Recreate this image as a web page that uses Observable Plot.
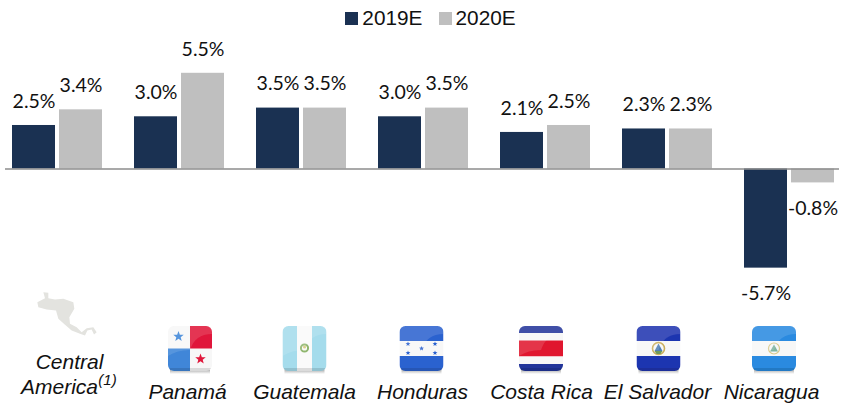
<!DOCTYPE html>
<html>
<head>
<meta charset="utf-8">
<script src="https://cdn.jsdelivr.net/npm/d3@7"></script>
<script src="https://cdn.jsdelivr.net/npm/@observablehq/plot@0.6"></script>
<style>
html,body{margin:0;padding:0;background:#fff;width:846px;height:411px;overflow:hidden}
figure{margin:0 !important}
.lg-swatches-wrap{display:flex !important;justify-content:center;align-items:center;height:36px;min-height:36px !important;margin:0 !important;padding-left:15px;box-sizing:border-box;flex-wrap:nowrap}
.lg-swatches{font-family:"Liberation Sans",Arial,sans-serif !important;font-size:20.8px !important;color:#111}
.lg-swatch{margin-right:16px !important;margin-left:0}
.lg-swatch:last-child{margin-right:0 !important}
.lg-swatch svg{margin-right:4px !important}
</style>
</head>
<body>
<div id="chart"></div>
<script>
const categories = ["Central America", "Panamá", "Guatemala", "Honduras", "Costa Rica", "El Salvador", "Nicaragua"];
const series = ["2019E", "2020E"];
const values2019 = [2.5, 3.0, 3.5, 3.0, 2.1, 2.3, -5.7];
const values2020 = [3.4, 5.5, 3.5, 3.5, 2.5, 2.3, -0.8];
const colors = ["#1a3152", "#bfbfbf"];

const table = categories.flatMap((c, i) => [
  {country: c, series: series[0], value: values2019[i]},
  {country: c, series: series[1], value: values2020[i]}
]);

// Decorative flag artwork (glossy rounded icons) and the region silhouette
function flagIcon(body) {
  const svg = `<svg xmlns="http://www.w3.org/2000/svg" width="50" height="52" viewBox="0 0 50 52">
  <defs><clipPath id="c"><rect x="3" y="2" width="44" height="45" rx="6"/></clipPath>
  <linearGradient id="s" x1="0" y1="0" x2="0" y2="1"><stop offset="0" stop-color="#000" stop-opacity=".3"/><stop offset="1" stop-color="#000" stop-opacity="0"/></linearGradient>
  <filter id="b" x="-5%" y="-5%" width="110%" height="110%"><feGaussianBlur stdDeviation=".5"/></filter></defs>
  <rect x="5" y="46" width="40" height="4" fill="url(#s)"/>
  <g filter="url(#b)"><g clip-path="url(#c)">${body}
  <path d="M3 2H47V10Q30 10 25 26Q12 26 3 32Z" fill="#fff" opacity=".13"/>
  <rect x="3" y="44" width="44" height="3" fill="#000" opacity=".12"/>
  </g></g></svg>`;
  return "data:image/svg+xml;charset=utf-8," + encodeURIComponent(svg);
}
const band = (y, h, fill) => `<rect x="3" y="${y}" width="44" height="${h}" fill="${fill}"/>`;
const star = (x, y, r, fill) => {
  const p = d3.range(10).map(i => {
    const a = -Math.PI / 2 + i * Math.PI / 5, q = i % 2 ? r * 0.42 : r;
    return `${(x + q * Math.cos(a)).toFixed(2)},${(y + q * Math.sin(a)).toFixed(2)}`;
  }).join(" ");
  return `<polygon points="${p}" fill="${fill}"/>`;
};
const flags = {
  "Panamá": flagIcon(`<rect x="3" y="2" width="44" height="45" fill="#f7f7f7"/>
    <rect x="25" y="2" width="22" height="22.5" fill="#e0173a"/>
    <rect x="3" y="24.5" width="22" height="22.5" fill="#3f86d8"/>
    ${star(13.5, 12.5, 5.5, "#3f86d8")}${star(35.5, 35, 5.5, "#e0173a")}`),
  "Guatemala": flagIcon(`<rect x="3" y="2" width="44" height="45" fill="#a5dcec"/>
    <rect x="17.5" y="2" width="15" height="45" fill="#fafafa"/>
    <circle cx="25" cy="24" r="3.6" fill="none" stroke="#8fb66e" stroke-width="2"/>
    <circle cx="25" cy="23" r="1.5" fill="#d4c87c"/>`),
  "Honduras": flagIcon(`${band(2, 15, "#2c62cf")}${band(17, 15, "#f7f7f7")}${band(32, 15, "#2c62cf")}
    ${star(11.5, 20, 2.6, "#2c62cf")}${star(11.5, 29, 2.6, "#2c62cf")}${star(25, 24.5, 2.6, "#2c62cf")}${star(38.5, 20, 2.6, "#2c62cf")}${star(38.5, 29, 2.6, "#2c62cf")}`),
  "Costa Rica": flagIcon(`${band(2, 7, "#23359a")}${band(9, 7.5, "#f7f7f7")}${band(16.5, 16, "#e0172f")}${band(32.5, 7.5, "#f7f7f7")}${band(40, 7, "#23359a")}`),
  "El Salvador": flagIcon(`${band(2, 15, "#1f35b0")}${band(17, 15, "#f7f7f7")}${band(32, 15, "#1f35b0")}
    <circle cx="25" cy="24.5" r="6" fill="none" stroke="#c9ad5a" stroke-width="1.6"/>
    <path d="M25 19.5L29 27H21Z" fill="#4f7fb5"/><path d="M21 27H29L27 30H23Z" fill="#6f9a5a"/>`),
  "Nicaragua": flagIcon(`${band(2, 15, "#2a8ae0")}${band(17, 15, "#f7f7f7")}${band(32, 15, "#2a8ae0")}
    <circle cx="25" cy="24.5" r="5.5" fill="none" stroke="#d8c98a" stroke-width="1.2"/>
    <path d="M25 20.5L29 27.5H21Z" fill="#7fb5a0"/>`)
};
const regionMap = "data:image/svg+xml;charset=utf-8," + encodeURIComponent(
  `<svg xmlns="http://www.w3.org/2000/svg" width="75" height="55" viewBox="0 0 225 165"><path d="M40 20L55 22L55 38L75 42L100 40L130 50L133 70L118 95L120 115L140 125L155 140L170 128L190 125L200 140L192 147L185 132L172 135L165 150L150 145L125 135L105 118L85 100L78 75L50 72L25 65L22 50L45 38Z" fill="#e3e3df"/></svg>`);

// Horizontal nudges of the bottom strip relative to each country's group
const flagNudge = {"Panamá": 10.5, "Guatemala": 3, "Honduras": -2, "Costa Rica": -4.5, "El Salvador": -9, "Nicaragua": -15.5};
const labelNudge = {"Panamá": 8, "Guatemala": 3, "Honduras": -1, "Costa Rica": -4, "El Salvador": -10, "Nicaragua": -18};

const labelFont = {fontFamily: "Liberation Sans, Arial, sans-serif", fontStyle: "italic", fontSize: 21, fill: "#111"};
const valueFont = {fontFamily: "Lato, Carlito, sans-serif", fontSize: 19.5, fill: "#111"};

const strip = categories.slice(1).flatMap(c => [
  Plot.image([c], {fx: d => d, src: () => flags[c], width: 50, height: 52, frameAnchor: "bottom", dx: flagNudge[c], dy: -61.5}),
  Plot.text([c], {fx: d => d, text: d => d, frameAnchor: "bottom", lineAnchor: "bottom", dx: labelNudge[c], dy: -13, ...labelFont})
]);

// The zero line: one segment per group, each running half way across the gap to its neighbours
const zeroLine = (names, insetLeft, insetRight) =>
  Plot.ruleY(names, {fx: d => d, y: () => 0, stroke: "#8c8c8c", strokeWidth: 1.6, insetLeft, insetRight});

const plot = Plot.plot({
  width: 846,
  height: 375,
  marginTop: 0, marginBottom: 0, marginLeft: 12, marginRight: 12,
  fx: {domain: categories, axis: null, paddingInner: 32 / 122, paddingOuter: 0},
  x: {domain: series, axis: null, paddingInner: 4 / 47, paddingOuter: 0},
  y: {domain: [-13.94, 7.615], axis: null},
  color: {domain: series, range: colors, legend: true, swatchSize: 13, className: "lg"},
  marks: [
    Plot.barY(table, {fx: "country", x: "series", y: "value", fill: "series"}),
    zeroLine(categories.slice(0, 1), -7, -16),
    zeroLine(categories.slice(1, -1), -16, -16),
    zeroLine(categories.slice(-1), -16, -5),
    Plot.text(table.filter(d => d.value >= 0), {fx: "country", x: "series", y: "value", text: d => d.value.toFixed(1) + "%", dy: -24, ...valueFont}),
    Plot.text(table.filter(d => d.value < 0), {fx: "country", x: "series", y: "value", text: d => d.value.toFixed(1) + "%", dy: 26, ...valueFont}),
    ...strip,
    Plot.image(["Central America"], {fx: d => d, src: () => regionMap, width: 75, height: 55, frameAnchor: "bottom", dx: 10, dy: -98.5}),
    Plot.text(["Central America"], {fx: d => d, text: () => "Central", frameAnchor: "bottom", lineAnchor: "bottom", dx: 12, dy: -43, ...labelFont}),
    Plot.text(["Central America"], {fx: d => d, text: () => "America", frameAnchor: "bottom", lineAnchor: "bottom", dx: 2, dy: -18, ...labelFont}),
    Plot.text(["Central America"], {fx: d => d, text: () => "(1)", frameAnchor: "bottom", lineAnchor: "bottom", dx: 50, dy: -27, ...labelFont, fontSize: 15})
  ]
});
document.getElementById("chart").append(plot);
</script>
</body>
</html>
